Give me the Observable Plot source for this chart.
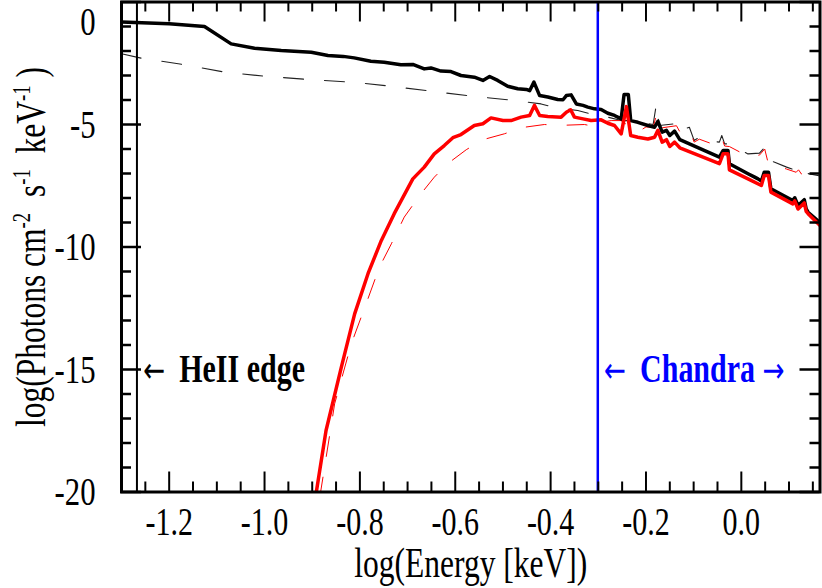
<!DOCTYPE html>
<html><head><meta charset="utf-8">
<script src="https://cdn.jsdelivr.net/npm/d3@7"></script>
<script src="https://cdn.jsdelivr.net/npm/@observablehq/plot@0.6"></script>
<style>body{margin:0;background:#fff} svg{display:block}</style>
</head><body><div id="chart"></div>
<script>
// log(Energy [keV]) , log(Photons cm^-2 s^-1 keV^-1)
const totalSolid = [[-1.300,-0.82],[-1.200,-0.89],[-1.126,-1.00],[-1.070,-1.71],[-1.021,-1.89],[-0.965,-1.98],[-0.902,-2.05],[-0.867,-2.18],[-0.835,-2.22],[-0.812,-2.28],[-0.777,-2.42],[-0.749,-2.46],[-0.714,-2.56],[-0.689,-2.55],[-0.665,-2.73],[-0.651,-2.69],[-0.630,-2.82],[-0.609,-2.84],[-0.588,-3.00],[-0.560,-3.07],[-0.542,-3.20],[-0.528,-3.04],[-0.511,-3.20],[-0.490,-3.44],[-0.469,-3.54],[-0.451,-3.57],[-0.444,-3.62],[-0.435,-3.27],[-0.423,-3.82],[-0.406,-3.88],[-0.385,-3.98],[-0.374,-3.99],[-0.367,-3.82],[-0.357,-3.79],[-0.346,-4.16],[-0.332,-4.22],[-0.322,-4.29],[-0.308,-4.36],[-0.294,-4.39],[-0.280,-4.54],[-0.266,-4.63],[-0.252,-4.77],[-0.246,-3.78],[-0.237,-3.78],[-0.232,-4.84],[-0.217,-4.91],[-0.196,-5.04],[-0.182,-5.11],[-0.175,-4.87],[-0.166,-5.31],[-0.157,-5.24],[-0.150,-5.45],[-0.140,-5.27],[-0.129,-5.62],[-0.046,-6.33],[-0.038,-6.06],[-0.028,-6.06],[-0.025,-6.60],[0.014,-7.01],[0.028,-7.15],[0.035,-7.22],[0.042,-7.31],[0.048,-6.95],[0.057,-6.95],[0.062,-7.62],[0.108,-8.10],[0.112,-7.99],[0.119,-8.31],[0.132,-8.07],[0.136,-8.44],[0.140,-8.58],[0.165,-9.00]];
const absorbedSolid = [[-0.893,-20.2],[-0.871,-17.49],[-0.839,-14.91],[-0.811,-12.73],[-0.783,-11.09],[-0.755,-9.73],[-0.728,-8.64],[-0.689,-7.22],[-0.665,-6.74],[-0.644,-6.20],[-0.623,-5.86],[-0.605,-5.54],[-0.588,-5.41],[-0.560,-5.04],[-0.542,-4.97],[-0.525,-4.73],[-0.500,-4.84],[-0.483,-4.84],[-0.462,-4.70],[-0.444,-4.63],[-0.434,-4.22],[-0.423,-4.63],[-0.406,-4.67],[-0.378,-4.70],[-0.367,-4.50],[-0.358,-4.40],[-0.350,-4.70],[-0.332,-4.77],[-0.315,-4.84],[-0.294,-4.81],[-0.280,-4.95],[-0.266,-5.04],[-0.252,-5.38],[-0.241,-4.27],[-0.232,-5.45],[-0.217,-5.52],[-0.196,-5.59],[-0.182,-5.52],[-0.175,-5.24],[-0.166,-5.72],[-0.157,-5.62],[-0.150,-5.90],[-0.140,-5.72],[-0.129,-5.95],[-0.046,-6.60],[-0.038,-6.19],[-0.028,-6.19],[-0.025,-6.85],[0.014,-7.22],[0.042,-7.49],[0.048,-7.08],[0.057,-7.08],[0.062,-7.76],[0.108,-8.24],[0.112,-8.12],[0.119,-8.45],[0.132,-8.20],[0.136,-8.55],[0.140,-8.64],[0.165,-9.12]];
const totalDashed = [[-1.300,-2.11],[-1.259,-2.29],[-1.172,-2.55],[-1.084,-2.86],[-1.000,-3.03],[-0.909,-3.16],[-0.818,-3.27],[-0.734,-3.44],[-0.651,-3.64],[-0.574,-3.82],[-0.476,-4.02],[-0.420,-4.16],[-0.388,-4.32],[-0.343,-4.43],[-0.304,-4.63],[-0.280,-4.70],[-0.252,-4.84],[-0.224,-4.84],[-0.200,-4.95],[-0.185,-5.00],[-0.178,-4.15],[-0.172,-5.04],[-0.140,-4.97],[-0.136,-4.90],[-0.129,-5.24],[-0.109,-5.11],[-0.099,-5.65],[-0.088,-5.52],[-0.067,-5.68],[-0.046,-5.72],[-0.041,-5.45],[-0.035,-5.79],[-0.025,-5.79],[0.014,-6.20],[0.038,-6.17],[0.049,-5.93],[0.056,-6.44],[0.070,-6.54],[0.095,-6.74],[0.115,-6.88],[0.120,-6.75],[0.126,-6.95],[0.160,-7.08],[0.165,-7.10]];
const absorbedDashed = [[-0.884,-20.2],[-0.853,-16.40],[-0.818,-13.95],[-0.787,-12.32],[-0.759,-10.82],[-0.734,-9.87],[-0.707,-8.78],[-0.672,-7.83],[-0.644,-7.15],[-0.616,-6.60],[-0.577,-6.03],[-0.542,-5.62],[-0.497,-5.38],[-0.458,-5.12],[-0.413,-5.00],[-0.385,-5.04],[-0.329,-5.00],[-0.308,-5.08],[-0.294,-4.91],[-0.273,-4.84],[-0.252,-4.84],[-0.233,-5.11],[-0.217,-5.31],[-0.200,-5.10],[-0.185,-5.12],[-0.178,-4.60],[-0.172,-5.15],[-0.136,-5.05],[-0.129,-5.30],[-0.109,-5.20],[-0.099,-5.72],[-0.088,-5.60],[-0.067,-5.75],[-0.046,-5.80],[-0.041,-5.55],[-0.035,-5.88],[-0.025,-5.90],[0.014,-6.30],[0.038,-6.25],[0.049,-6.00],[0.056,-6.55],[0.070,-6.65],[0.095,-6.82],[0.115,-6.95],[0.120,-6.85],[0.126,-7.02],[0.165,-7.15]];

const xDomain = [-1.3, 0.165];
const yDomain = [-20, 0];
const xMajor = [-1.2, -1.0, -0.8, -0.6, -0.4, -0.2, 0.0];
const xMinor = [-1.25,-1.15,-1.1,-1.05,-0.95,-0.9,-0.85,-0.75,-0.7,-0.65,-0.55,-0.5,-0.45,-0.35,-0.3,-0.25,-0.15,-0.1,-0.05,0.05,0.1,0.15];
const yMajor = [-20, -15, -10, -5, 0];
const yMinor = [-19,-18,-17,-16,-14,-13,-12,-11,-9,-8,-7,-6,-4,-3,-2,-1];
const heEdge = Math.log10(0.054);    // HeII edge (~54 eV)
const chandraMin = Math.log10(0.5);  // Chandra band from 0.5 keV
const annotations = [
  {x: heEdge, y: -15, label: "\u2190 HeII edge", color: "#000"},
  {x: chandraMin, y: -15, label: "\u2190 Chandra \u2192", color: "#0000ff"}
];
const xLabel = "log(Energy [keV])";
const yLabelParts = [["log(Photons cm", 0], ["-2", 1], ["\u00a0\u00a0s", 0], ["-1", 1], ["\u00a0\u00a0keV", 0], ["-1", 1], ["\u00a0)", 0]];

const W = 822, H = 588, mL = 121, mR = 2.5, mT = 1.5, mB = 96.5;
const frameW = W - mL - mR, frameH = H - mT - mB;
const font = "'Liberation Serif','Times New Roman',serif";
const X = d => d[0], Y = d => d[1];

const svg = Plot.plot({
  width: W, height: H, marginLeft: mL, marginRight: mR, marginTop: mT, marginBottom: mB,
  x: {domain: xDomain, axis: null},
  y: {domain: yDomain, axis: null},
  style: {fontFamily: font, background: "white", color: "black", overflow: "visible"},
  marks: [
    Plot.line(totalDashed, {x: X, y: Y, stroke: "#222", strokeWidth: 1.1, strokeDasharray: "20,21", clip: true}),
    Plot.line(absorbedDashed, {x: X, y: Y, stroke: "#ff0000", strokeWidth: 1, strokeDasharray: "20,21", clip: true}),
    Plot.line(totalSolid, {x: X, y: Y, stroke: "#000", strokeWidth: 3.5, clip: true}),
    Plot.line(absorbedSolid, {x: X, y: Y, stroke: "#ff0000", strokeWidth: 3.5, clip: true}),
    Plot.ruleX([heEdge], {x: d => d, stroke: "#000", strokeWidth: 2}),
    Plot.ruleX([chandraMin], {x: d => d, stroke: "#0000ff", strokeWidth: 2.5}),
    // inward ticks on all four sides
    Plot.tickX(xMajor, {x: d => d, insetTop: frameH - 20, strokeWidth: 2}),
    Plot.tickX(xMinor, {x: d => d, insetTop: frameH - 10, strokeWidth: 2}),
    Plot.tickX(xMajor, {x: d => d, insetBottom: frameH - 20, strokeWidth: 2}),
    Plot.tickX(xMinor, {x: d => d, insetBottom: frameH - 10, strokeWidth: 2}),
    Plot.tickY(yMajor, {y: d => d, insetRight: frameW - 20, strokeWidth: 2.5}),
    Plot.tickY(yMinor, {y: d => d, insetRight: frameW - 10, strokeWidth: 2.5}),
    Plot.tickY(yMajor, {y: d => d, insetLeft: frameW - 20, strokeWidth: 2.5}),
    Plot.tickY(yMinor, {y: d => d, insetLeft: frameW - 10, strokeWidth: 2.5}),
    Plot.frame({stroke: "#000", strokeWidth: 3}),
    // tick labels
    Plot.text(xMajor, {x: d => d, frameAnchor: "bottom", lineAnchor: "middle", dy: 30, text: d => d.toFixed(1), fontSize: 40, fill: "#000"}),
    Plot.text(yMajor.filter(d => d < 0), {y: d => d, frameAnchor: "left", dx: -26, textAnchor: "end", lineAnchor: "middle", text: d => String(d), fontSize: 41, fill: "#000"}),
    Plot.text(yMajor.filter(d => d === 0), {y: d => d, frameAnchor: "left", dx: -26, dy: 4, textAnchor: "end", lineAnchor: "top", text: d => String(d), fontSize: 41, fill: "#000"}),
    // axis titles
    Plot.text([xLabel], {frameAnchor: "bottom", lineAnchor: "middle", textAnchor: "middle", dy: 72, text: d => d, fontSize: 42, fill: "#000"}),
    Plot.text([yLabelParts.map(p => p[0]).join("")], {frameAnchor: "left", textAnchor: "middle", lineAnchor: "middle", dx: -90, rotate: -90, text: d => d, fontSize: 42, fill: "#000"}),
    // annotations
    Plot.text(annotations, {x: "x", y: "y", text: "label", fill: "color", dx: 6, textAnchor: "start", lineAnchor: "middle", fontSize: 40, fontWeight: "bold"})
  ]
});

const ns = "http://www.w3.org/2000/svg";
const texts = [...svg.querySelectorAll("text")];
// superscripts in the y title
const ylab = texts.find(t => t.textContent.includes("Photons"));
if (ylab) {
  ylab.textContent = "";
  let raised = false;
  yLabelParts.forEach(([s, sup]) => {
    const ts = document.createElementNS(ns, "tspan");
    ts.textContent = s;
    if (sup) { ts.setAttribute("font-size", "25"); if (!raised) ts.setAttribute("dy", "-15"); raised = true; }
    else if (raised) { ts.setAttribute("dy", "15"); raised = false; }
    ylab.appendChild(ts);
  });
}
// larger, lighter arrows in the annotations
texts.filter(t => /[\u2190\u2192]/.test(t.textContent)).forEach(t => {
  const s = t.textContent;
  t.textContent = "";
  s.split(/([\u2190\u2192])/).filter(p => p.length).forEach((p, i) => {
    const ts = document.createElementNS(ns, "tspan");
    ts.textContent = p;
    if (/[\u2190\u2192]/.test(p)) {
      ts.setAttribute("font-family", "'DejaVu Sans', sans-serif");
      ts.setAttribute("font-weight", "normal");
      ts.setAttribute("font-size", "35");
    } else if (i > 0) {
      ts.setAttribute("dx", "9");
    }
    t.appendChild(ts);
  });
});
// the reference typesetting is horizontally condensed
svg.querySelectorAll("text").forEach(t => {
  const x = +(t.getAttribute("x") || 0);
  const tr = t.getAttribute("transform") || "";
  if (x) { t.removeAttribute("x"); }
  t.setAttribute("transform", `${tr} translate(${x},0) scale(0.75,1)`);
});
document.getElementById("chart").appendChild(svg);
</script>
</body></html>
